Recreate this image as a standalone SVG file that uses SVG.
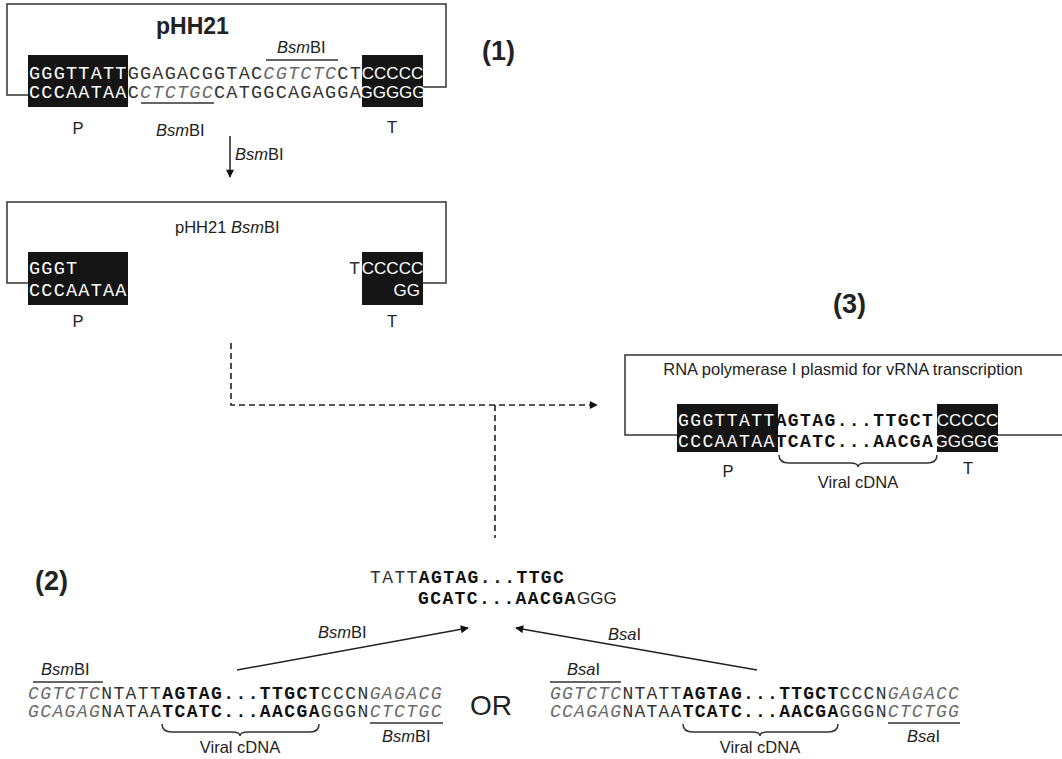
<svg xmlns="http://www.w3.org/2000/svg" width="1062" height="759" viewBox="0 0 1062 759">
<defs>
<style>
.seq{font-family:'Liberation Mono','Courier New',monospace;fill:#333}
.s1{font-size:18.5px;letter-spacing:1.23px}
.s2{font-size:18px;letter-spacing:1.4px}
.s3{font-size:18px;letter-spacing:1.26px}
.lbl{font-family:'Liberation Sans',Arial,sans-serif;fill:#222}
.sm{font-size:16.5px}
.num{font-size:27px;font-weight:bold}
.w{fill:#fff}
.b{font-weight:bold;fill:#111}
.it{font-style:italic;fill:#6a6a6a}
.blk{fill:#151515}
.wb{font-family:'Liberation Sans',Arial,sans-serif;fill:#fff;font-size:17px}
.ln{fill:none;stroke:#333;stroke-width:1.5}
.dash{fill:none;stroke:#222;stroke-width:1.6;stroke-dasharray:6 4}
.arr{fill:none;stroke:#222;stroke-width:1.5}
</style>
<marker id="ah" viewBox="0 0 10 10" refX="9" refY="5" markerWidth="10" markerHeight="8" markerUnits="userSpaceOnUse" orient="auto">
<path d="M0,0 L10,5 L0,10 z" fill="#111"/>
</marker>
</defs>
<rect width="1062" height="759" fill="#fff"/>

<g id="step1">
<path class="ln" d="M28,95 H7 V4 H446 V87 H423"/>
<text class="lbl" x="156" y="34" font-size="23" font-weight="bold" fill="#111">pHH21</text>
<text class="lbl sm" x="277" y="53"><tspan font-style="italic">Bsm</tspan>BI</text>
<line class="ln" x1="266" y1="60" x2="338" y2="60"/>
<rect class="blk" x="28" y="55" width="100" height="52"/>
<rect class="blk" x="362" y="55" width="61" height="52"/>
<text class="seq s1" x="29" y="79"><tspan class="w">GGGTTATT</tspan>GGAGACGGTAC<tspan class="it">CGTCTC</tspan>CT</text>
<text class="seq s1" x="29" y="98"><tspan class="w">CCCAATAA</tspan>C<tspan class="it">CTCTGC</tspan>CATGGCAGAGGA</text>
<line class="ln" x1="141" y1="103" x2="214" y2="103"/>
<text class="lbl sm" x="156" y="136"><tspan font-style="italic">Bsm</tspan>BI</text>
<text class="wb" x="392.5" y="79" text-anchor="middle">CCCCC</text>
<text class="wb" x="392.5" y="98" text-anchor="middle">GGGGG</text>
<text class="lbl sm" x="78" y="134" text-anchor="middle">P</text>
<text class="lbl sm" x="392" y="133" text-anchor="middle">T</text>
<text class="lbl num" x="482" y="60" fill="#111">(1)</text>
</g>

<g id="step1-digested">
<path class="ln" d="M28,283 H7 V202 H446 V283 H423"/>
<text class="lbl sm" x="175" y="233">pHH21 <tspan font-style="italic">Bsm</tspan>BI</text>
<rect class="blk" x="28" y="252" width="100" height="53"/>
<rect class="blk" x="362" y="252" width="61" height="53"/>
<text class="seq s1" x="29" y="274"><tspan class="w">GGGT</tspan></text>
<text class="seq s1" x="29" y="296"><tspan class="w">CCCAATAA</tspan></text>
<text class="seq s1" x="349" y="274">T</text>
<text class="wb" x="392.5" y="274" text-anchor="middle">CCCCC</text>
<text class="wb" x="420" y="296" text-anchor="end">GG</text>
<text class="lbl sm" x="78" y="327" text-anchor="middle">P</text>
<text class="lbl sm" x="392" y="327" text-anchor="middle">T</text>
</g>

<g id="step3">
<text class="lbl num" x="833" y="313" fill="#111">(3)</text>
<path class="ln" d="M677,435 H625 V355 H1063"/>
<path class="ln" d="M998,435 H1063"/>
<text class="lbl sm" x="843" y="375" text-anchor="middle">RNA polymerase I plasmid for vRNA transcription</text>
<rect class="blk" x="677" y="404" width="101" height="48"/>
<rect class="blk" x="937" y="404" width="61" height="48"/>
<text class="seq s2" x="678" y="426"><tspan class="w">GGGTTATT</tspan><tspan class="b">AGTAG...TTGCT</tspan></text>
<text class="seq s2" x="678" y="447"><tspan class="w">CCCAATAA</tspan><tspan class="b">TCATC...AACGA</tspan></text>
<text class="wb" x="967.5" y="426" text-anchor="middle">CCCCC</text>
<text class="wb" x="967.5" y="447" text-anchor="middle">GGGGG</text>
<path class="ln" d="M779,455 Q779,463 789,463 L850,463 Q858,463 858,467 Q858,463 866,463 L927,463 Q937,463 937,455"/>
<text class="lbl sm" x="858" y="488" text-anchor="middle">Viral cDNA</text>
<text class="lbl sm" x="728" y="477" text-anchor="middle">P</text>
<text class="lbl sm" x="968" y="474" text-anchor="middle">T</text>
</g>

<g id="fragment">
<text class="seq s2" x="370" y="583">TATT<tspan class="b">AGTAG...TTGC</tspan></text>
<text class="seq s2" x="418" y="604"><tspan class="b">GCATC...AACGA</tspan></text>
<text class="lbl" x="577" y="604" font-size="17" fill="#555">GGG</text>
</g>

<g id="pcr-bsmbi">
<text class="lbl num" x="35" y="590" fill="#111">(2)</text>
<text class="lbl sm" x="41" y="675"><tspan font-style="italic">Bsm</tspan>BI</text>
<line class="ln" x1="33" y1="682" x2="103" y2="682"/>
<text class="seq s2" x="28" y="699"><tspan class="it">CGTCTC</tspan>NTATT<tspan class="b">AGTAG...TTGCT</tspan>CCCN<tspan class="it">GAGACG</tspan></text>
<text class="seq s2" x="28" y="717"><tspan class="it">GCAGAG</tspan>NATAA<tspan class="b">TCATC...AACGA</tspan>GGGN<tspan class="it">CTCTGC</tspan></text>
<line class="ln" x1="370" y1="723" x2="443" y2="723"/>
<text class="lbl sm" x="382" y="742"><tspan font-style="italic">Bsm</tspan>BI</text>
<path class="ln" d="M162,724 Q162,732 172,732 L232,732 Q240,732 240,736 Q240,732 248,732 L310,732 Q319,732 319,724"/>
<text class="lbl sm" x="240" y="753" text-anchor="middle">Viral cDNA</text>
</g>

<text class="lbl" x="470" y="715" font-size="28" fill="#111">OR</text>

<g id="pcr-bsai">
<text class="lbl sm" x="567" y="675"><tspan font-style="italic">Bsa</tspan>I</text>
<line class="ln" x1="550" y1="682" x2="621" y2="682"/>
<text class="seq s3" x="550" y="699"><tspan class="it">GGTCTC</tspan>NTATT<tspan class="b">AGTAG...TTGCT</tspan>CCCN<tspan class="it">GAGACC</tspan></text>
<text class="seq s3" x="550" y="717"><tspan class="it">CCAGAG</tspan>NATAA<tspan class="b">TCATC...AACGA</tspan>GGGN<tspan class="it">CTCTGG</tspan></text>
<line class="ln" x1="888" y1="723" x2="960" y2="723"/>
<text class="lbl sm" x="907" y="742"><tspan font-style="italic">Bsa</tspan>I</text>
<path class="ln" d="M683,724 Q683,732 693,732 L752,732 Q760,732 760,736 Q760,732 768,732 L828,732 Q838,732 838,724"/>
<text class="lbl sm" x="760" y="753" text-anchor="middle">Viral cDNA</text>
</g>

<g id="connectors">
<line class="arr" x1="230" y1="136" x2="230" y2="177" marker-end="url(#ah)"/>
<text class="lbl sm" x="235" y="160"><tspan font-style="italic">Bsm</tspan>BI</text>
<path class="dash" d="M231,343 V405 H597" marker-end="url(#ah)"/>
<path class="dash" d="M495,405 V538"/>
<line class="arr" x1="237" y1="670" x2="468" y2="628" marker-end="url(#ah)"/>
<text class="lbl sm" x="318" y="638"><tspan font-style="italic">Bsm</tspan>BI</text>
<line class="arr" x1="757" y1="670" x2="516" y2="628" marker-end="url(#ah)"/>
<text class="lbl sm" x="608" y="640"><tspan font-style="italic">Bsa</tspan>I</text>
</g>
</svg>
